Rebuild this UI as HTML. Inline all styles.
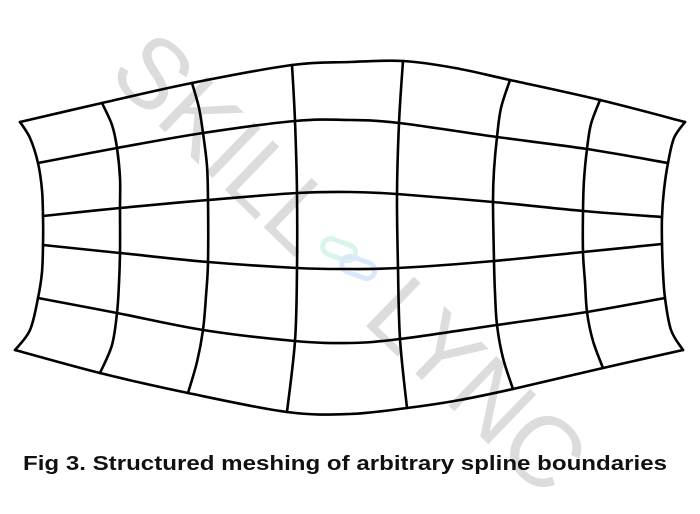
<!DOCTYPE html>
<html><head><style>
html,body{margin:0;padding:0;background:#fff;}
svg{display:block;}
</style></head><body>
<svg id="sv" width="700" height="514" viewBox="0 0 700 514" xmlns="http://www.w3.org/2000/svg">
<rect width="700" height="514" fill="#fff"/>
<g transform="translate(350,262) rotate(44)" fill="#dcdcdc" font-family="Liberation Sans, sans-serif" font-size="100">
<text x="-305" y="35" textLength="265" lengthAdjust="spacingAndGlyphs">SKILL</text>
<text x="48" y="35" textLength="258" lengthAdjust="spacingAndGlyphs">LYNC</text>
</g>
<g transform="translate(350,258) rotate(20)" fill="none" stroke-width="5">
<rect x="-30" y="-12" width="34" height="16" rx="8" stroke="#d8f5ec"/>
<rect x="-6" y="-2" width="34" height="16" rx="8" stroke="#dbe8fb"/>
</g>
<g id="mesh" fill="none" stroke="#000" stroke-width="2.6" stroke-linejoin="round" stroke-linecap="round">
<polyline points="20,122 102,103 192,83 292,65 350,62 403,61 455,68 510,80 600,100 685,122"/>
<polyline points="15,350 100,373 188,393 287,412 350,414 407,408 460,400 513,389 603,368 683,350"/>
<polyline points="20,122 30,138 38,163 42,190 43,216 43,245 42,272 38,298 30,330 15,350"/>
<polyline points="685,122 674,138 668,163 664,190 662,217 662,244 663,272 665,298 671,330 683,350"/>
<polyline points="38,163 117,148 203,133 295,121 350,120 399,123 497,137 587,149 668,163"/>
<polyline points="43,216 120,208 208,200 297,193 350,192 397,194 493,202 583,211 662,217"/>
<polyline points="43,245 120,253 208,262 297,268 350,269 398,268 494,261 583,252 662,244"/>
<polyline points="38,298 117,313 203,330 295,341 350,343 400,339 497,325 587,312 665,298"/>
<polyline points="102,103 112,125 117,148 120,178 120,208 120,253 119,283 117,313 112,345 100,373"/>
<polyline points="192,83 199,108 203,133 207,166 208,200 208,262 206,296 203,330 197,362 188,393"/>
<polyline points="292,65 295,121 297,193 297,268 295,341 287,412"/>
<polyline points="403,61 399,123 397,194 398,268 400,339 407,408"/>
<polyline points="510,80 501,108 497,137 494,170 493,202 494,261 495,293 497,325 503,358 513,389"/>
<polyline points="600,100 591,124 587,149 584,180 583,211 583,252 585,282 587,312 593,341 603,368"/>
</g>
<text x="345" y="470" text-anchor="middle" font-family="Liberation Sans, sans-serif" font-weight="bold" font-size="20" fill="#111" textLength="644" lengthAdjust="spacingAndGlyphs">Fig 3. Structured meshing of arbitrary spline boundaries</text>
</svg>
<script>
(function(){
var ns="http://www.w3.org/2000/svg";
var g=document.getElementById("mesh");
var pls=Array.prototype.slice.call(g.querySelectorAll("polyline"));
pls.forEach(function(pl){
var p=pl.getAttribute("points").trim().split(/\s+/).map(function(s){return s.split(",").map(Number);});
var d="M"+p[0][0]+","+p[0][1];
for(var i=0;i<p.length-1;i++){
var p0=p[i-1]||p[i],p1=p[i],p2=p[i+1],p3=p[i+2]||p[i+1];
var c1=[p1[0]+(p2[0]-p0[0])/6,p1[1]+(p2[1]-p0[1])/6];
var c2=[p2[0]-(p3[0]-p1[0])/6,p2[1]-(p3[1]-p1[1])/6];
d+=" C"+c1[0].toFixed(1)+","+c1[1].toFixed(1)+" "+c2[0].toFixed(1)+","+c2[1].toFixed(1)+" "+p2[0]+","+p2[1];
}
var path=document.createElementNS(ns,"path");
path.setAttribute("d",d);
g.replaceChild(path,pl);
});
})();
</script>
</body></html>
